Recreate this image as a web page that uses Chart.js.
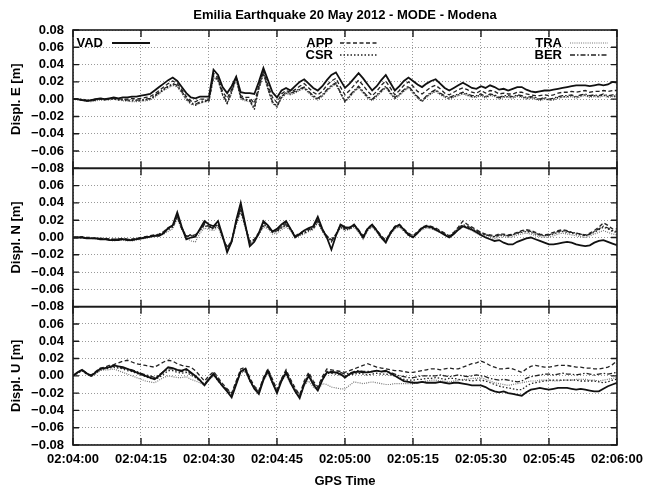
<!DOCTYPE html>
<html>
<head>
<meta charset="utf-8">
<script src="https://cdn.jsdelivr.net/npm/chart.js@4.4.1/dist/chart.umd.min.js"></script>
<style>
  html, body { margin: 0; padding: 0; background: #fff; }
  #wrap { width: 650px; height: 488px; }
</style>
</head>
<body>
<div id="wrap"><canvas id="chart" width="650" height="488"></canvas></div>
<script>
// time axis: seconds after 02:04:00, one sample per second
const TIME_TICKS = ['02:04:00', '02:04:15', '02:04:30', '02:04:45', '02:05:00',
                    '02:05:15', '02:05:30', '02:05:45', '02:06:00'];
const STATIONS = ['VAD', 'APP', 'CSR', 'TRA', 'BER'];
const TITLE = 'Emilia Earthquake 20 May 2012 - MODE - Modena';

// displacements in mm (t = 0 .. 120 s)
// --- East ---
const VAD_E = [0,0,-1,-2,-1,0,1,0,1,2, 1,2,2,3,3,4,5,6,10,14, 18,22,25,21,14,7,2,1,3,3,
  3,34,28,14,7,15,26,8,7,7, 6,20,36,22,8,2,10,13,10,15, 20,23,18,13,10,15,22,28,31,22,
  13,18,24,30,24,17,10,15,22,28, 19,10,15,21,25,21,17,14,18,21, 23,18,13,10,13,16,19,16,13,12,
  15,13,16,14,11,12,10,12,14,14, 11,9,8,9,10,10,11,12,13,14, 15,16,16,16,15,16,17,16,17,20, 19];
const APP_E = [0,0,-1,-2,-2,-1,0,0,0,1, 0,0,0,1,0,1,2,3,6,10, 14,18,21,18,11,3,-2,-3,0,0,
  0,30,25,9,1,11,25,4,2,2, -5,16,33,16,2,-4,6,10,8,11, 15,18,13,8,5,9,16,21,24,14,
  5,10,16,22,16,9,4,9,16,21, 13,5,10,16,20,15,9,6,10,14, 16,12,7,5,8,11,13,11,8,7,
  10,7,10,9,6,7,6,6,8,8, 6,5,4,4,5,4,5,7,8,8, 9,8,9,10,8,9,9,10,9,10, 10];
const CSR_E = [0,0,-1,-2,-2,-1,0,-1,0,0, -1,-1,-2,-2,-2,-2,-1,0,3,7, 11,14,17,15,8,0,-5,-7,-4,-3,
  -2,26,22,5,-5,8,24,1,-1,-2, -12,12,30,12,-4,-9,2,7,6,8, 11,13,8,3,0,4,10,15,18,7,
  -3,3,9,14,8,2,-1,4,9,14, 7,1,5,10,14,8,2,-3,3,7, 10,6,3,1,3,5,7,5,3,3,
  5,2,5,4,1,3,3,2,4,3, 1,2,1,-1,1,-1,0,2,3,3, 4,2,4,5,3,4,3,5,3,4, 3];
const TRA_E = [0,-1,-1,-2,-3,-2,-1,-1,-1,0, -1,-2,-2,-3,-3,-2,-2,-1,2,6, 10,13,16,14,7,-1,-6,-7,-5,-3,
  -3,25,21,4,-6,7,23,0,-2,-3, -11,11,29,11,-5,-9,1,6,5,7, 10,12,7,2,-1,3,9,14,17,6,
  -3,2,8,13,7,1,-2,3,8,13, 6,0,4,9,13,7,1,-2,2,6, 9,5,2,0,2,4,6,4,2,2,
  4,1,4,3,0,2,2,1,3,2, 0,1,0,-2,0,-1,-1,1,2,2, 3,1,3,4,2,3,2,4,2,3, 2];
const BER_E = [0,0,0,-1,-1,0,1,0,0,1, 0,0,-1,-1,-1,-1,0,1,4,8, 12,15,18,16,9,1,-4,-6,-3,-2,
  -1,27,23,6,-4,9,25,2,0,-1, -10,13,31,13,-3,-8,3,8,7,9, 12,14,9,4,1,5,11,16,19,8,
  -2,4,10,15,9,3,0,5,10,15, 8,2,6,11,15,9,3,-2,4,8, 11,7,4,2,4,6,8,6,4,4,
  6,3,6,5,2,4,4,3,5,4, 2,3,2,0,2,0,1,3,4,4, 5,3,5,6,4,5,4,6,4,5, 5];

// --- North ---
const VAD_N = [0,0,0,-1,-1,-1,-2,-2,-3,-3, -3,-2,-3,-3,-2,-1,0,1,2,2, 5,11,14,29,12,-2,0,1,10,19,
  15,13,19,2,-17,-5,20,40,15,-10, -5,5,19,14,7,10,15,19,10,0, 4,8,11,13,24,10,0,-14,2,15,
  12,11,15,8,0,10,15,8,0,-6, 5,12,15,9,3,0,5,11,13,12, 9,6,3,0,4,9,13,11,9,6,
  3,0,-2,-4,-3,-6,-8,-8,-5,-3, -1,0,-2,-4,-6,-8,-8,-7,-6,-5, -6,-8,-9,-10,-9,-6,-4,-3,-5,-7, -9];
const APP_N = [0,0,1,0,0,-1,-1,-1,-2,-2, -2,-1,-2,-2,-1,0,1,2,3,4, 7,11,13,24,10,1,3,3,9,16,
  13,12,16,1,-12,-3,17,33,13,-5, -2,6,17,13,7,9,13,17,10,2, 5,8,10,12,20,9,2,-3,4,14,
  11,12,15,9,2,11,15,9,2,-3, 6,13,15,10,5,2,7,12,14,13, 11,8,5,2,6,12,19,15,12,9,
  6,4,3,2,4,4,3,4,6,8, 9,8,6,4,3,4,6,8,9,8, 6,5,4,3,5,8,12,17,14,10, 10];
const CSR_N = [0,0,0,0,-1,-1,-1,-2,-2,-3, -2,-2,-2,-3,-2,-1,0,1,2,3, 6,9,12,23,11,2,3,2,8,14,
  11,10,14,0,-11,-4,16,31,12,-4, -3,4,13,12,6,7,11,14,9,1, 3,5,8,10,18,8,0,-2,3,12,
  9,10,13,7,-1,9,13,7,1,-4, 4,11,13,8,3,1,6,10,12,11, 9,7,4,1,5,10,14,12,10,7,
  4,3,2,1,2,3,2,3,5,6, 7,6,4,3,2,3,4,6,7,6, 5,4,3,2,4,6,9,12,10,7, 6];
const TRA_N = [0,1,0,0,-1,-2,-2,-2,-3,-4, -3,-3,-4,-4,-3,-2,-1,0,1,2, 4,7,10,22,9,0,-4,-5,5,11,
  9,8,12,-2,-13,-6,14,30,11,-6, -4,3,12,10,4,5,9,12,8,0, 2,4,7,9,17,7,-1,-3,2,11,
  8,9,12,6,-2,8,12,6,-1,-5, 3,10,12,7,2,0,5,9,11,10, 8,6,3,0,4,9,12,10,8,5,
  2,1,0,-1,0,1,0,1,3,4, 5,4,2,1,0,1,2,4,5,4, 3,2,1,0,2,4,6,8,6,4, 3];
const BER_N = [0,0,0,-1,-1,-1,-1,-2,-2,-2, -2,-2,-3,-2,-2,-1,0,1,2,3, 6,10,13,26,11,1,2,2,9,15,
  12,11,15,1,-14,-4,18,35,14,-7, -3,5,15,12,6,8,12,15,10,1, 4,6,9,11,21,9,1,-5,3,13,
  10,11,14,8,0,10,14,8,1,-4, 5,12,14,9,4,1,6,11,13,12, 10,7,4,1,5,11,15,13,11,8,
  5,3,2,1,3,3,2,3,5,7, 8,7,5,3,2,3,5,7,8,7, 6,5,4,2,4,7,10,13,11,8, 7];

// --- Up ---
const VAD_U = [0,4,7,3,0,4,8,9,10,12, 11,10,8,6,4,2,0,-2,-4,0, 5,10,9,7,6,8,4,0,-5,-11,
  -4,2,-5,-12,-18,-25,-10,5,8,-5, -15,-21,-5,6,-8,-20,-6,4,-8,-18, -26,-10,0,-10,-17,-5,4,4,4,2,
  -2,2,4,5,4,4,5,6,5,6, 3,0,-3,-6,-7,-8,-8,-7,-8,-8, -8,-7,-8,-9,-8,-8,-9,-10,-11,-11,
  -11,-13,-16,-18,-19,-18,-20,-21,-22,-23, -19,-16,-15,-14,-15,-16,-15,-14,-14,-14,
  -15,-16,-15,-16,-17,-18,-18,-15,-12,-10, -8];
const APP_U = [0,4,7,3,1,5,9,10,12,13, 15,17,18,16,14,13,12,11,10,13, 16,18,17,14,12,11,10,6,0,-6,
  0,5,-2,-9,-15,-20,-6,8,10,-2, -12,-17,-2,8,-4,-16,-3,7,-4,-14, -22,-6,4,-6,-13,-1,8,7,6,5,
  4,6,8,10,12,14,12,10,9,8, 7,6,6,5,4,4,5,6,7,8, 8,7,8,9,8,8,10,12,14,15,
  17,15,12,10,8,8,9,8,6,4, 8,11,12,11,10,10,11,12,12,12, 11,10,10,9,9,8,8,9,10,13, 17];
const CSR_U = [0,3,6,2,0,3,7,8,9,10, 9,8,6,5,3,1,-1,-3,-4,-2, 2,6,6,4,3,4,1,-2,-6,-10,
  -3,2,-6,-12,-17,-22,-8,5,6,-6, -14,-19,-4,5,-8,-18,-5,3,-8,-17, -24,-9,0,-9,-15,-4,3,3,2,1,
  0,1,2,3,2,1,2,3,2,2, 1,0,-2,-4,-5,-5,-4,-4,-3,-3, -2,-3,-4,-3,-3,-4,-5,-5,-6,-5,
  -5,-6,-8,-10,-12,-13,-14,-15,-16,-16, -12,-9,-8,-7,-6,-5,-5,-5,-5,-5, -5,-5,-6,-6,-6,-6,-7,-8,-7,-5, -4];
const TRA_U = [0,3,6,2,-1,2,6,7,7,8, 6,4,2,0,-2,-4,-6,-7,-8,-5, -2,0,-1,-2,-2,-1,-4,-6,-8,-11,
  -5,0,-6,-12,-16,-20,-8,3,5,-6, -13,-18,-5,3,-9,-17,-6,1,-9,-16, -22,-11,-6,-13,-17,-9,-10,-13,-14,-15,
  -15,-11,-7,-8,-9,-8,-7,-8,-9,-10, -10,-9,-9,-9,-9,-9,-8,-7,-6,-5, -5,-6,-6,-7,-6,-5,-4,-4,-3,-3,
  -2,-4,-6,-8,-9,-10,-11,-10,-9,-8, -7,-6,-6,-5,-5,-5,-6,-6,-5,-5, -5,-4,-4,-4,-5,-5,-6,-5,-4,-3, -2];
const BER_U = [0,4,6,3,0,4,8,9,10,11, 10,9,8,7,5,3,1,0,-2,1, 5,8,8,6,5,6,3,-1,-5,-10,
  -3,3,-4,-11,-16,-22,-8,6,8,-4, -13,-19,-3,7,-6,-18,-4,5,-6,-16, -24,-8,2,-8,-15,-3,5,5,4,4,
  2,3,5,6,5,5,5,6,5,5, 4,2,0,-1,-2,-2,-1,0,0,0, 0,1,0,-1,0,1,0,-1,0,1,
  0,-1,-3,-4,-5,-4,-5,-6,-7,-6, -3,-1,0,1,2,2,1,2,3,2, 2,1,2,3,2,1,2,3,2,3, 4];

const PANELS = [
  { id: 'yE', title: 'Displ. E [m]', series: [VAD_E, APP_E, CSR_E, TRA_E, BER_E] },
  { id: 'yN', title: 'Displ. N [m]', series: [VAD_N, APP_N, CSR_N, TRA_N, BER_N] },
  { id: 'yU', title: 'Displ. U [m]', series: [VAD_U, APP_U, CSR_U, TRA_U, BER_U] }
];

const FONT = { family: '"Liberation Sans", Arial, Helvetica, sans-serif', size: 13, weight: 'bold' };

// gnuplot-like line types
const LINE = {
  VAD: { color: '#111', width: 1.8, dash: [] },
  APP: { color: '#222', width: 1.3, dash: [4, 2.5] },
  CSR: { color: '#222', width: 1.3, dash: [1.5, 2] },
  TRA: { color: '#777', width: 1.2, dash: [1, 1.2] },
  BER: { color: '#222', width: 1.3, dash: [5, 2, 1.5, 2] }
};

const datasets = [];
PANELS.forEach(p => {
  p.series.forEach((vals, k) => {
    const st = LINE[STATIONS[k]];
    datasets.push({
      label: STATIONS[k],
      yAxisID: p.id,
      data: vals.map((v, i) => ({ x: i, y: v })),
      borderColor: st.color,
      borderWidth: st.width,
      borderDash: st.dash,
      pointRadius: 0,
      fill: false,
      tension: 0
    });
  });
});

const tickLabel = v => (v / 1000).toFixed(2).replace('-', '\u2212');

function yScale(p, idx) {
  return {
    type: 'linear',
    position: 'left',
    stack: 'disp',
    stackWeight: 1,
    min: -80, max: 80,
    ticks: {
      stepSize: 20, autoSkip: false, font: FONT, color: '#000', padding: 9,
      callback: v => (idx > 0 && v === 80) ? '' : tickLabel(v)
    },
    grid: { color: '#9a9a9a', lineWidth: 1, drawTicks: false },
    border: { display: false, dash: [1, 2] },
    title: { display: true, text: p.title, font: FONT, color: '#000', padding: { top: 9, bottom: 0 } },
    afterFit: s => { s.width = 73; }
  };
}

// box around each panel with inward tick marks, title centred over the plot
const framePlugin = {
  id: 'frame',
  afterDatasetsDraw(chart) {
    const { ctx, chartArea: a, scales } = chart;
    const xs = scales.x;
    ctx.save();
    ctx.strokeStyle = '#1a1a1a';
    ctx.setLineDash([]);
    PANELS.forEach(p => {
      const s = scales[p.id];
      ctx.lineWidth = 1.6;
      ctx.strokeRect(a.left, s.top, a.right - a.left, s.bottom - s.top);
      ctx.lineWidth = 1.4;
      ctx.beginPath();
      s.ticks.forEach(t => {
        const y = s.getPixelForValue(t.value);
        ctx.moveTo(a.left, y); ctx.lineTo(a.left + 6, y);
        ctx.moveTo(a.right - 6, y); ctx.lineTo(a.right, y);
      });
      xs.ticks.forEach(t => {
        const x = xs.getPixelForValue(t.value);
        ctx.moveTo(x, s.top); ctx.lineTo(x, s.top + 7);
        ctx.moveTo(x, s.bottom - 7); ctx.lineTo(x, s.bottom);
      });
      ctx.stroke();
    });
    ctx.font = 'bold 13px ' + FONT.family;
    ctx.fillStyle = '#000';
    ctx.textAlign = 'center';
    ctx.textBaseline = 'middle';
    ctx.fillText(TITLE, (a.left + a.right) / 2, 15);
    ctx.restore();
  }
};

// gnuplot style key inside the top panel
const keyPlugin = {
  id: 'key',
  afterDraw(chart) {
    const { ctx, chartArea: a } = chart;
    const slots = [
      { name: 'VAD', tx: 30, row: 0, s0: 39 },
      { name: 'APP', tx: 260, row: 0, s0: 267 },
      { name: 'CSR', tx: 260, row: 1, s0: 267 },
      { name: 'TRA', tx: 489, row: 0, s0: 497 },
      { name: 'BER', tx: 489, row: 1, s0: 497 }
    ];
    ctx.save();
    ctx.font = 'bold 13px ' + FONT.family;
    ctx.fillStyle = '#000';
    ctx.textAlign = 'right';
    ctx.textBaseline = 'middle';
    slots.forEach(k => {
      const y = a.top + 13 + k.row * 12;
      ctx.fillText(k.name, a.left + k.tx, y);
      const st = LINE[k.name];
      ctx.strokeStyle = st.color;
      ctx.lineWidth = st.width;
      ctx.setLineDash(st.dash);
      ctx.beginPath();
      ctx.moveTo(a.left + k.s0, y);
      ctx.lineTo(a.left + k.s0 + 38, y);
      ctx.stroke();
    });
    ctx.restore();
  }
};

const scales = {
  x: {
    type: 'linear',
    min: 0, max: 120,
    ticks: {
      stepSize: 15, font: FONT, color: '#000', padding: 7, maxRotation: 0,
      callback: v => TIME_TICKS[Math.round(v / 15)]
    },
    grid: { color: '#9a9a9a', lineWidth: 1, drawTicks: false },
    border: { display: false, dash: [1, 2] },
    title: { display: true, text: 'GPS Time', font: Object.assign({}, FONT, { lineHeight: 1 }), color: '#000', padding: 0 },
    afterFit: s => { s.height = 43; }
  }
};
// stacked axes are laid out bottom-up, so add the lowest panel first
[2, 1, 0].forEach(i => { scales[PANELS[i].id] = yScale(PANELS[i], i); });

new Chart(document.getElementById('chart'), {
  type: 'line',
  data: { datasets },
  options: {
    responsive: false,
    animation: false,
    layout: { padding: { left: 0, right: 27, top: 30, bottom: 0 } },
    plugins: {
      legend: { display: false },
      tooltip: { enabled: false },
      title: { display: false }
    },
    scales
  },
  plugins: [framePlugin, keyPlugin]
});
</script>
</body>
</html>
